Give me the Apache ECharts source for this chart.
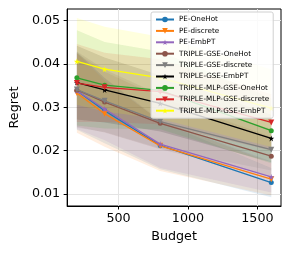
<!DOCTYPE html>
<html><head><meta charset="utf-8">
<script src="https://cdn.jsdelivr.net/npm/echarts@6/dist/echarts.min.js"></script>
<style>html,body{margin:0;padding:0;background:#fff}#c{width:290px;height:255px}</style>
</head><body><div id="c"></div>
<script>
const budgets = [200, 400, 800, 1600];
const xTicks = [500, 1000, 1500];
const yTicks = [0.01, 0.02, 0.03, 0.04, 0.05];
const names = ['PE-OneHot','PE-discrete','PE-EmbPT','TRIPLE-GSE-OneHot','TRIPLE-GSE-discrete','TRIPLE-GSE-EmbPT','TRIPLE-MLP-GSE-OneHot','TRIPLE-MLP-GSE-discrete','TRIPLE-MLP-GSE-EmbPT'];
const peOneHot      = [0.0338, 0.0292, 0.0212, 0.0126];
const peDiscrete    = [0.0333, 0.0285, 0.0211, 0.0134];
const peEmb         = [0.0338, 0.0296, 0.0215, 0.0139];
const gseOneHot     = [0.0340, 0.0312, 0.0263, 0.0187];
const gseDiscrete   = [0.0341, 0.0315, 0.0267, 0.0202];
const gseEmb        = [0.0357, 0.0340, 0.0309, 0.0228];
const mlpOneHot     = [0.0368, 0.0351, 0.0339, 0.0246];
const mlpDiscrete   = [0.0356, 0.0346, 0.0336, 0.0265];
const mlpEmb        = [0.0406, 0.0388, 0.0368, 0.0298];
const peOneHotStd   = [0.0090, 0.0075, 0.0055, 0.0034];
const peDiscreteStd = [0.0092, 0.0076, 0.0058, 0.0038];
const peEmbStd      = [0.0088, 0.0072, 0.0055, 0.0036];
const gseOneHotStd  = [0.0085, 0.0070, 0.0060, 0.0045];
const gseDiscreteStd= [0.0088, 0.0072, 0.0062, 0.0048];
const gseEmbStd     = [0.0085, 0.0075, 0.0065, 0.0055];
const mlpOneHotStd  = [0.0110, 0.0100, 0.0090, 0.0075];
const mlpDiscreteStd= [0.0090, 0.0080, 0.0075, 0.0065];
const mlpEmbStd     = [0.0100, 0.0098, 0.0095, 0.0090];

const means = [peOneHot, peDiscrete, peEmb, gseOneHot, gseDiscrete, gseEmb, mlpOneHot, mlpDiscrete, mlpEmb];
const stds = [peOneHotStd, peDiscreteStd, peEmbStd, gseOneHotStd, gseDiscreteStd, gseEmbStd, mlpOneHotStd, mlpDiscreteStd, mlpEmbStd];
const colors = ['#1f77b4','#ff7f0e','#9467bd','#8c564b','#7f7f7f','#000000','#2ca02c','#d62728','#ffff00'];
const circle = 'circle';
const triDown = 'path://M0,0 L10,0 L5,9 Z';
const star = 'path://M50,0 L61,35 L98,35 L68,57 L79,91 L50,70 L21,91 L32,57 L2,35 L39,35 Z';
const symbols = [circle, triDown, star, circle, triDown, star, circle, triDown, star];
const sizes = [5, 6, 6, 5, 6, 6, 5, 6, 6];

const series = [];
means.forEach((m, i) => {
  const bandData = m.map((v, k) => [budgets[k], v - stds[i][k], v + stds[i][k]]);
  series.push({type:'custom', silent:true, z:1, clip:true,
    data: bandData,
    encode:{x:0, y:[1,2]},
    renderItem: (params, api) => {
      if (params.dataIndex !== 0) return null;
      const upper = bandData.map(d => api.coord([d[0], d[2]]));
      const lower = bandData.map(d => api.coord([d[0], d[1]])).reverse();
      return {type:'polygon', shape:{points: upper.concat(lower)},
        style:{fill: colors[i], opacity: 0.13, stroke:'none'}};
    }
  });
});
means.forEach((m, i) => {
  series.push({type:'line', name: names[i], data: m.map((v, k) => [budgets[k], v]),
    symbol: symbols[i], symbolSize: sizes[i], showSymbol:true,
    lineStyle:{color: colors[i], width:1.3}, itemStyle:{color: colors[i]}, z: 3 + i});
});

const chart = echarts.init(document.getElementById('c'), null, {renderer:'canvas'});
chart.setOption({
  animation:false,
  textStyle:{fontFamily:'DejaVu Sans'},
  grid:{left:65, right:9, top:9, bottom:49, show:true, borderColor:'#000', borderWidth:1, backgroundColor:'transparent'},
  legend:{
    z: 50,
    data: names, orient:'vertical', left:151, top:12,
    itemWidth:18, itemHeight:7, itemGap:2.4,
    padding:[3,4,3,4],
    backgroundColor:'rgba(255,255,255,0.8)', borderColor:'#d0d0d0', borderWidth:1, borderRadius:2,
    textStyle:{fontFamily:'DejaVu Sans', fontSize:7.2, color:'#000', lineHeight:9}
  },
  xAxis:{type:'value', min:130, max:1670,
    name:'Budget', nameLocation:'middle', nameGap:22,
    nameTextStyle:{fontFamily:'DejaVu Sans', fontSize:12.7, color:'#000'},
    axisLine:{show:true, lineStyle:{color:'#000', width:1}},
    axisTick:{show:true, length:3.5, customValues: xTicks, lineStyle:{color:'#000'}},
    axisLabel:{customValues: xTicks, fontFamily:'DejaVu Sans', fontSize:12.7, color:'#000', margin:6,
      formatter: v => String(v)},
    splitLine:{show:true, lineStyle:{color:'#e4e4e4', width:1}}
  },
  yAxis:{type:'value', min:0.0072, max:0.0527,
    name:'Regret', nameLocation:'middle', nameGap:45, nameRotate:90,
    nameTextStyle:{fontFamily:'DejaVu Sans', fontSize:12.7, color:'#000'},
    axisLine:{show:true, lineStyle:{color:'#000', width:1}},
    axisTick:{show:true, length:3.5, customValues: yTicks, lineStyle:{color:'#000'}},
    axisLabel:{customValues: yTicks, fontFamily:'DejaVu Sans', fontSize:12.7, color:'#000', margin:7,
      formatter: v => v.toFixed(2)},
    splitLine:{show:true, lineStyle:{color:'#e4e4e4', width:1}}
  },
  series: series
});
</script></body></html>
